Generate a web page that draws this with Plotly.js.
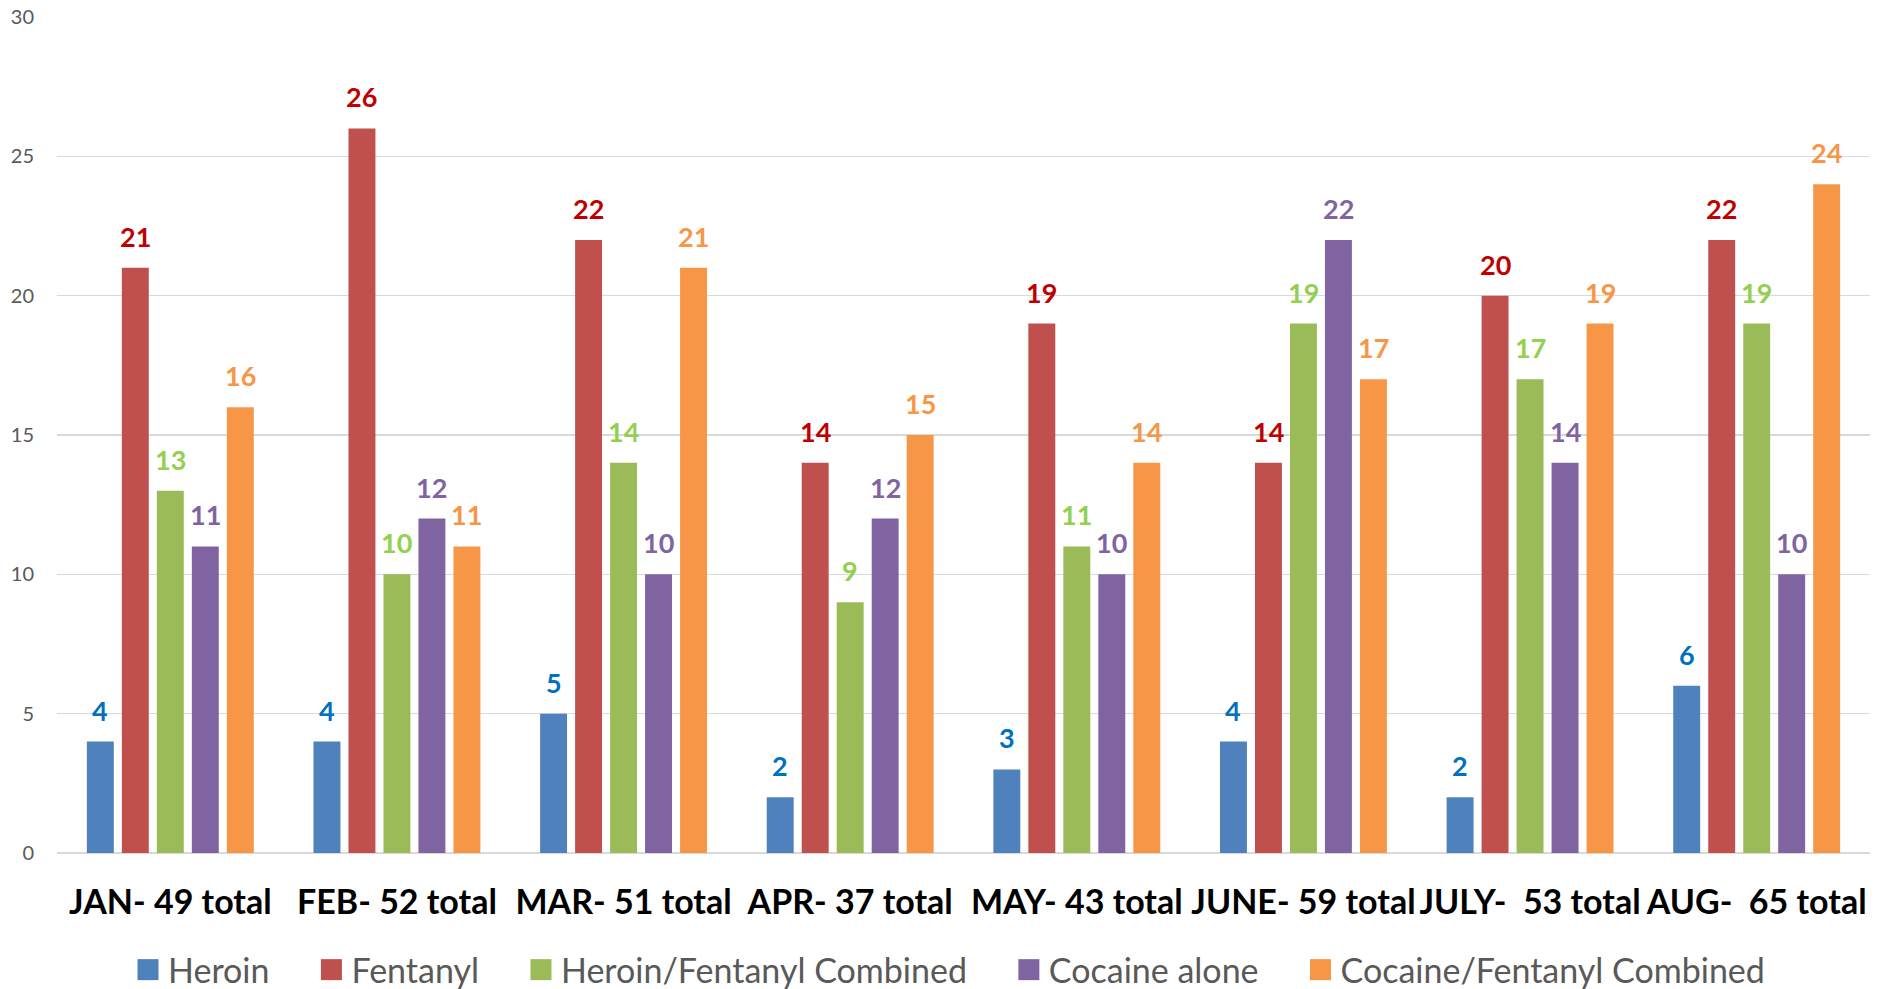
<!DOCTYPE html>
<html>
<head>
<meta charset="utf-8">
<script src="https://cdn.plot.ly/plotly-3.0.1.min.js"></script>
<style>
  html, body { margin: 0; padding: 0; background: #fff; }
  #chart { width: 1881px; height: 989px; }
</style>
</head>
<body>
<div id="chart"></div>
<script>
const categories = ["JAN- 49 total", "FEB- 52 total", "MAR- 51 total", "APR- 37 total",
                    "MAY- 43 total", "JUNE- 59 total", "JULY-  53 total", "AUG-  65 total"];
const seriesNames = ["Heroin", "Fentanyl", "Heroin/Fentanyl Combined", "Cocaine alone", "Cocaine/Fentanyl Combined"];
const heroin = [4, 4, 5, 2, 3, 4, 2, 6];
const fentanyl = [21, 26, 22, 14, 19, 14, 20, 22];
const heroinFentanyl = [13, 10, 14, 9, 11, 19, 17, 19];
const cocaineAlone = [11, 12, 10, 12, 10, 22, 14, 10];
const cocaineFentanyl = [16, 11, 21, 15, 14, 17, 19, 24];
const yTicks = [0, 5, 10, 15, 20, 25, 30];

const seriesValues = [heroin, fentanyl, heroinFentanyl, cocaineAlone, cocaineFentanyl];
const barColors = ["#4F81BD", "#C0504D", "#9BBB59", "#8064A2", "#F79646"];
const labelColors = ["#0070C0", "#C00000", "#92D050", "#8064A2", "#F79646"];

const W = 1881, H = 989;
const margin = { l: 57, r: 11, t: 17, b: 136, autoexpand: false };
const bargap = 0.228, bargroupgap = 0.23;
const legendPad = "\u00A0\u00A0\u00A0\u00A0\u200A";

const traces = seriesValues.map((vals, i) => ({
  type: "bar",
  name: seriesNames[i] + (i < seriesValues.length - 1 ? legendPad : ""),
  x: categories,
  y: vals,
  marker: { color: barColors[i], line: { width: 0 } },
  hoverinfo: "x+y+name"
}));

// data labels placed above each bar, through the axes
const plotW = W - margin.l - margin.r;
const catW = plotW / categories.length;
const slot = catW * (1 - bargap) / seriesValues.length;
const annotations = [];
seriesValues.forEach((vals, i) => {
  vals.forEach((v, j) => {
    annotations.push({
      x: categories[j], y: v, xref: "x", yref: "y",
      text: String(v), showarrow: false,
      xanchor: "center", yanchor: "bottom",
      xshift: (i - (seriesValues.length - 1) / 2) * slot,
      yshift: 13,
      font: { family: "Lato", size: 27, color: labelColors[i], weight: 700 }
    });
  });
});

const layout = {
  width: W, height: H,
  margin: margin,
  paper_bgcolor: "#ffffff",
  plot_bgcolor: "#ffffff",
  barmode: "group",
  bargap: bargap,
  bargroupgap: bargroupgap,
  showlegend: true,
  legend: {
    orientation: "h",
    x: 0.492, xanchor: "center",
    y: -0.14, yanchor: "middle",
    font: { family: "Lato", size: 34, color: "#595959" },
    traceorder: "normal"
  },
  xaxis: {
    type: "category",
    tickangle: 0,
    ticks: "",
    ticklabelstandoff: 26,
    showgrid: false,
    showline: false,
    automargin: false,
    tickfont: { family: "Lato", size: 34, color: "#000000", weight: 700 }
  },
  yaxis: {
    range: [0, 30],
    tickvals: yTicks,
    ticktext: yTicks.map(String),
    showgrid: true,
    gridcolor: "#D9D9D9",
    gridwidth: 1.5,
    zeroline: true,
    zerolinecolor: "#D9D9D9",
    zerolinewidth: 2,
    showline: false,
    ticks: "",
    automargin: false,
    ticklabelstandoff: 22,
    tickfont: { family: "Lato", size: 20, color: "#595959" }
  },
  annotations: annotations,
  font: { family: "Lato" }
};

Plotly.newPlot("chart", traces, layout, { displayModeBar: false, staticPlot: true }).then(gd => {
  // enlarge legend swatches, keeping Plotly's own placement
  gd.querySelectorAll(".legend .legendpoints path").forEach(p => {
    const t = p.getAttribute("transform") || "";
    p.setAttribute("transform", t + " scale(1.75)");
  });
});
</script>
</body>
</html>
